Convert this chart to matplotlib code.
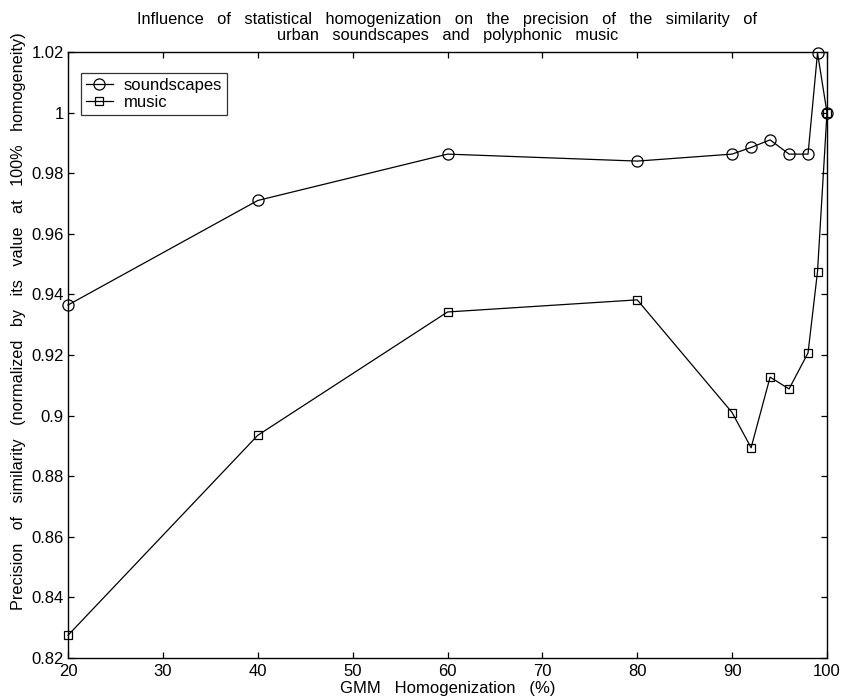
import matplotlib
matplotlib.use("Agg")
import matplotlib.pyplot as plt

plt.rcParams['font.family'] = ['Liberation Sans', 'DejaVu Sans']

homogenization = [20, 40, 60, 80, 90, 92, 94, 96, 98, 99, 100]
soundscapes = [0.9365, 0.971, 0.9863, 0.984, 0.9863, 0.9885, 0.991, 0.9863, 0.9863, 1.0197, 1.0]
music = [0.8275, 0.8935, 0.9342, 0.9382, 0.901, 0.8894, 0.9127, 0.9088, 0.9207, 0.9475, 1.0]

xticks = [20, 30, 40, 50, 60, 70, 80, 90, 100]
yticks = [0.82, 0.84, 0.86, 0.88, 0.9, 0.92, 0.94, 0.96, 0.98, 1.0, 1.02]
ytick_labels = ['0.82', '0.84', '0.86', '0.88', '0.9', '0.92', '0.94', '0.96', '0.98', '1', '1.02']

fig = plt.figure(figsize=(8.45, 6.98), dpi=100)
ax = fig.add_axes([0.0805, 0.0573, 0.8982, 0.8682])

ax.plot(homogenization, soundscapes, color='black', linewidth=0.9, marker='o',
        markersize=8, markerfacecolor='none', markeredgecolor='black', markeredgewidth=0.9,
        label='soundscapes', clip_on=False, zorder=3)
ax.plot(homogenization, music, color='black', linewidth=0.9, marker='s',
        markersize=6, markerfacecolor='none', markeredgecolor='black', markeredgewidth=0.9,
        label='music', clip_on=False, zorder=3)

ax.set_xlim(20, 100)
ax.set_ylim(0.82, 1.02)
ax.set_xticks(xticks)
ax.set_xticklabels([str(v) for v in xticks])
ax.set_yticks(yticks)
ax.set_yticklabels(ytick_labels)
ax.tick_params(direction='in', top=True, right=True, length=4.5, width=0.9,
               labelsize=12, pad=3, colors='black')
ax.tick_params(axis='x', pad=4)
for s in ax.spines.values():
    s.set_linewidth(1.0)
    s.set_color('black')

ax.set_xlabel('GMM   Homogenization   (%)', fontsize=12, labelpad=2)
ax.set_ylabel('Precision   of   similarity   (normalized   by   its   value   at   100%   homogeneity)',
              fontsize=11.7)
ax.yaxis.set_label_coords(-0.055, 0.556)
ax.set_title('Influence   of   statistical   homogenization   on   the   precision   of   the   similarity   of\n'
             'urban   soundscapes   and   polyphonic   music', fontsize=11.8, linespacing=1.05, pad=9)

leg = ax.legend(loc='upper left', bbox_to_anchor=(0.017, 0.965), fontsize=12, frameon=True,
                fancybox=False, edgecolor='black', borderpad=0.3, handlelength=1.6,
                handletextpad=0.65, labelspacing=0.1, borderaxespad=0.0)
leg.get_frame().set_linewidth(0.9)

fig.savefig('out.png', dpi=100)
